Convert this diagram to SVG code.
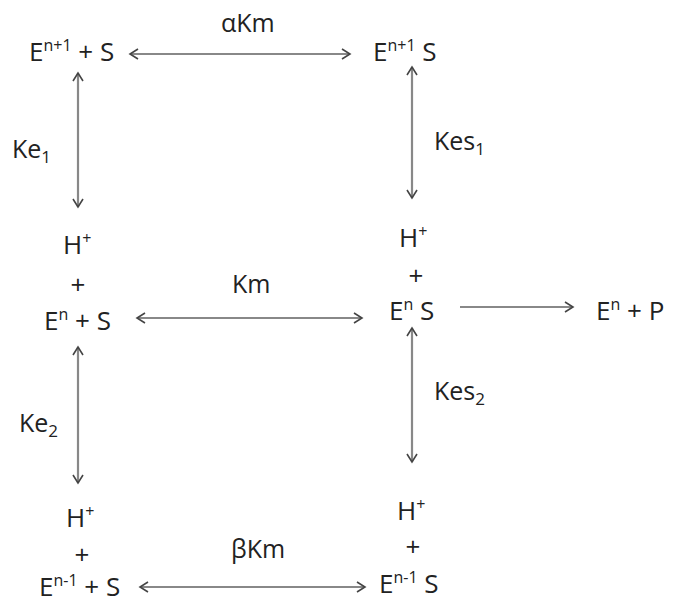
<svg xmlns="http://www.w3.org/2000/svg" width="675" height="604" viewBox="0 0 675 604">
<defs>
<style>
text{font-family:"Open Sans","Noto Sans","Liberation Sans",sans-serif;font-size:25px;fill:#222}
.n{font-size:26px}
.sup{font-size:16px}
.sub{font-size:17px}
.c{stroke:#888;stroke-width:2.2;fill:none;marker-start:url(#h);marker-end:url(#h)}
.one{stroke:#888;stroke-width:2.2;fill:none;marker-end:url(#h)}
</style>
<marker id="h" viewBox="0 0 12 12" refX="10" refY="6" markerWidth="12" markerHeight="12" markerUnits="userSpaceOnUse" orient="auto-start-reverse">
<path d="M2,1 L10,6 L2,11" fill="none" stroke="#444" stroke-width="1.6"/>
</marker>
</defs>
<rect width="675" height="604" fill="#fff"/>
<g id="connectors">
<line class="c" x1="130" y1="54" x2="350" y2="54"/>
<line class="c" x1="78" y1="73" x2="78" y2="207"/>
<line class="c" x1="412" y1="67" x2="412" y2="198"/>
<line class="c" x1="137" y1="318" x2="362" y2="318"/>
<line class="one" x1="460" y1="307" x2="573" y2="307"/>
<line class="c" x1="78" y1="347" x2="78" y2="483"/>
<line class="c" x1="412" y1="328" x2="412" y2="462"/>
<line class="c" x1="140" y1="587" x2="365" y2="587"/>
<text x="221" y="32">αKm</text>
<text x="12" y="158">Ke<tspan class="sub" dy="5">1</tspan></text>
<text x="434" y="150">Kes<tspan class="sub" dy="5">1</tspan></text>
<text x="232" y="293">Km</text>
<text x="19" y="432">Ke<tspan class="sub" dy="5">2</tspan></text>
<text x="434" y="400">Kes<tspan class="sub" dy="5">2</tspan></text>
<text x="231" y="558">βKm</text>
</g>
<g id="n1"><text class="n" x="29" y="61">E<tspan class="sup" dy="-10">n+1</tspan><tspan dy="10"> + S</tspan></text></g>
<g id="n2"><text class="n" x="373" y="61">E<tspan class="sup" dy="-10">n+1</tspan><tspan dy="10">  S</tspan></text></g>
<g id="n3">
<text class="n" x="63" y="254">H<tspan class="sup" dy="-10">+</tspan></text>
<text class="n" x="78" y="294" text-anchor="middle">+</text>
<text class="n" x="44" y="330">E<tspan class="sup" dy="-10">n</tspan><tspan dy="10"> + S</tspan></text>
</g>
<g id="n4">
<text class="n" x="399" y="247">H<tspan class="sup" dy="-10">+</tspan></text>
<text class="n" x="416" y="285" text-anchor="middle">+</text>
<text class="n" x="389" y="320">E<tspan class="sup" dy="-10">n</tspan><tspan dy="10">  S</tspan></text>
</g>
<g id="n5"><text class="n" x="596" y="320">E<tspan class="sup" dy="-10">n</tspan><tspan dy="10">  + P</tspan></text></g>
<g id="n6">
<text class="n" x="66" y="527">H<tspan class="sup" dy="-10">+</tspan></text>
<text class="n" x="82" y="564" text-anchor="middle">+</text>
<text class="n" x="39" y="596">E<tspan class="sup" dy="-10">n-1</tspan><tspan dy="10"> + S</tspan></text>
</g>
<g id="n7">
<text class="n" x="397" y="520">H<tspan class="sup" dy="-10">+</tspan></text>
<text class="n" x="413" y="556" text-anchor="middle">+</text>
<text class="n" x="379" y="593">E<tspan class="sup" dy="-10">n-1</tspan><tspan dy="10">  S</tspan></text>
</g>
</svg>
